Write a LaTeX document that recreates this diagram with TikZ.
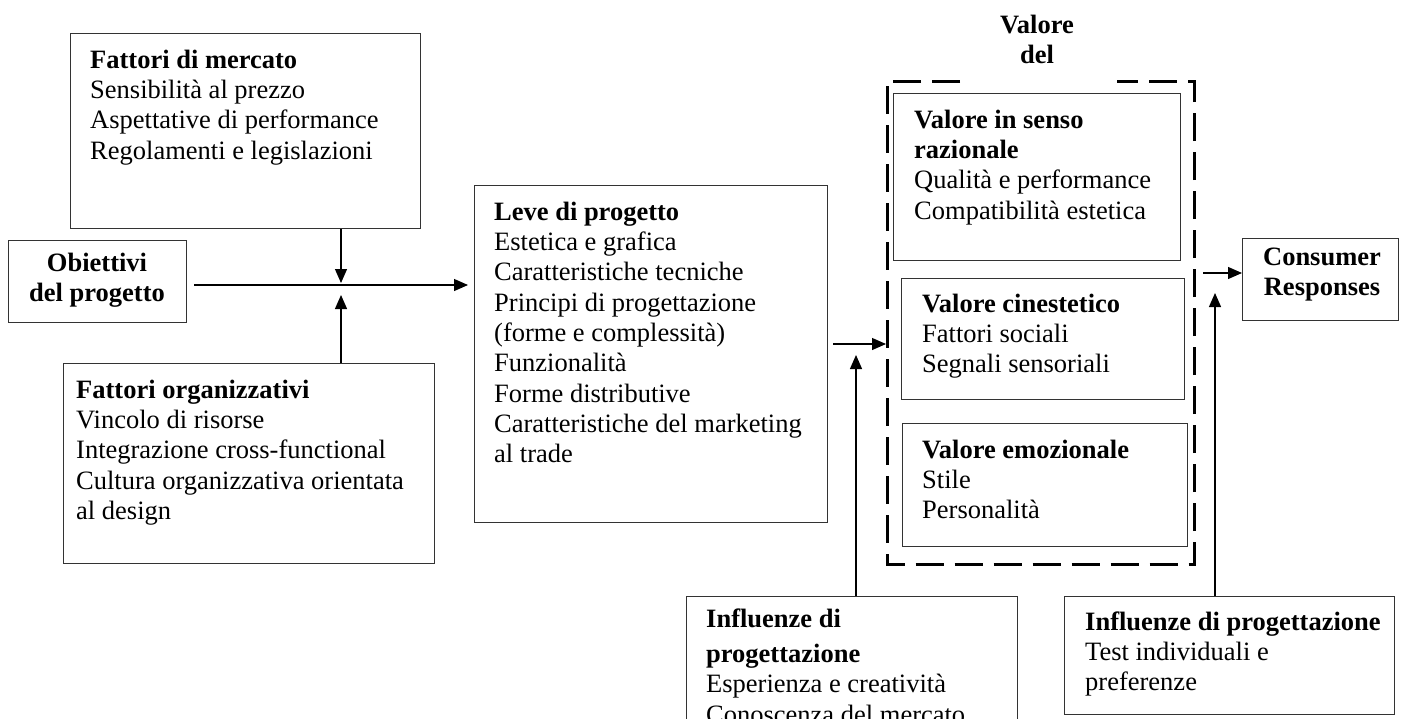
\documentclass[tikz,border=0pt]{standalone}
\usepackage{fontspec}
\setmainfont{Liberation Serif}
\usetikzlibrary{arrows.meta}
\newcommand\diafont{\fontsize{26.5}{30.3}\selectfont}
\newcommand\linetop{\rule{0pt}{24pt}}
\begin{document}
\begin{tikzpicture}[x=1pt,y=-1pt,
  box/.style={draw=black!80, line width=1.2pt, inner sep=0pt, anchor=north west},
  txt/.style={anchor=north west, inner sep=0pt, align=left, font=\diafont},
  ctxt/.style={anchor=north, inner sep=0pt, align=center, font=\diafont\bfseries},
  arr/.style={draw=black, line width=1.2pt, -{Triangle[length=14pt,width=12pt]}},
  grpline/.style={draw=black, line width=3pt, dash pattern=on 28pt off 11pt}]
\useasboundingbox (0,0) rectangle (1402,718);
\clip (0,0) rectangle (1402,718);

% left column
\node[box, minimum width=350pt, minimum height=195pt] (mkt) at (70,33) {};
\node[txt] (mkttxt) at (90,44) {\linetop\textbf{Fattori di mercato}\\Sensibilità al prezzo\\Aspettative di performance\\Regolamenti e legislazioni};

\node[box, minimum width=178pt, minimum height=82pt] (obj) at (8,240) {};
\node[ctxt] (objtxt) at (97,247) {\linetop Obiettivi\\del progetto};

\node[box, minimum width=371pt, minimum height=200pt] (org) at (63,363) {};
\node[txt] (orgtxt) at (76,374) {\linetop\textbf{Fattori organizzativi}\\Vincolo di risorse\\Integrazione cross-functional\\Cultura organizzativa orientata\\al design};

% design levers
\node[box, minimum width=353pt, minimum height=337pt] (leve) at (474,185) {};
\node[txt] (levetxt) at (494,196) {\linetop\textbf{Leve di progetto}\\Estetica e grafica\\Caratteristiche tecniche\\Principi di progettazione\\(forme e complessità)\\Funzionalità\\Forme distributive\\Caratteristiche del marketing\\al trade};

% value group
\node[inner sep=0pt, anchor=north west, minimum width=307pt, minimum height=483pt] (valgrp) at (887,81) {};
\draw[grpline] (960,81) -- (valgrp.north west) -- (valgrp.south west) -- (valgrp.south east) -- (valgrp.north east) -- (1117,81);
\node[ctxt] (grptitle) at (1037,9) {\linetop Valore\\del};

\node[box, minimum width=287pt, minimum height=167pt] (v1) at (893,93) {};
\node[txt] (v1txt) at (914,104) {\linetop\textbf{Valore in senso}\\\textbf{razionale}\\Qualità e performance\\Compatibilità estetica};

\node[box, minimum width=283pt, minimum height=121pt] (v2) at (901,278) {};
\node[txt] (v2txt) at (922,288) {\linetop\textbf{Valore cinestetico}\\Fattori sociali\\Segnali sensoriali};

\node[box, minimum width=285pt, minimum height=123pt] (v3) at (902,423) {};
\node[txt] (v3txt) at (922,434) {\linetop\textbf{Valore emozionale}\\Stile\\Personalità};

% outcome
\node[box, minimum width=156pt, minimum height=82pt] (cons) at (1242,238) {};
\node[ctxt] (constxt) at (1322,241) {\linetop Consumer\\Responses};

% bottom influences
\node[box, minimum width=331pt, minimum height=140pt] (inf1) at (686,596) {};
\node[txt] (inf1txt) at (706,603) {\linetop\textbf{Influenze di}\\[5pt]\textbf{progettazione}\\Esperienza e creatività\\Conoscenza del mercato};

\node[box, minimum width=330pt, minimum height=118pt] (inf2) at (1064,596) {};
\node[txt] (inf2txt) at (1085,606) {\linetop\textbf{Influenze di progettazione}\\Test individuali e\\preferenze};

% junctions
\coordinate (J) at (341,285);
\coordinate (K) at (856,344);
\coordinate (L) at (1215,273);

% connectors
\draw[arr, shorten <=7pt, shorten >=6pt] (obj.east |- J) -- (leve.west |- J);
\draw[arr, shorten >=2pt] (J |- mkt.south) -- (J);
\draw[arr, shorten >=10pt] (J |- org.north) -- (J);
\draw[arr, shorten <=5pt, shorten >=1pt] (leve.east |- K) -- (valgrp.west |- K);
\draw[arr, shorten >=11pt] (K |- inf1.north) -- (K);
\draw[arr, shorten <=9pt] (valgrp.east |- L) -- (cons.west |- L);
\draw[arr, shorten >=20pt] (L |- inf2.north) -- (L);
\end{tikzpicture}
\end{document}
